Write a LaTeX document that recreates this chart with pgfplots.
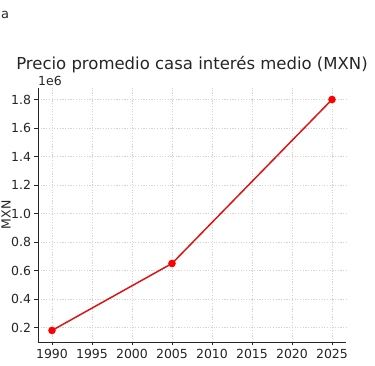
\documentclass[border=0pt]{standalone}
\usepackage{pgfplots}
\pgfplotsset{compat=1.18}
\usepackage{fontspec}
\setmainfont{DejaVu Sans}
\definecolor{linered}{RGB}{220,20,20}
\definecolor{gridc}{RGB}{212,212,212}
\begin{document}
\begin{tikzpicture}[x=1pt,y=1pt]
\useasboundingbox (0,0) rectangle (375,366);
\node[anchor=base west,font=\fontsize{13}{15}\selectfont,text=black!85,inner sep=0pt] at (1,347) {a};
\node[rotate=90,font=\fontsize{12.5}{15}\selectfont,text=black!85,inner sep=0pt] at (6,151) {MXN};
\begin{axis}[
  at={(38pt,24pt)}, anchor=origin,
  scale only axis, width=308pt, height=254pt,
  xmin=1988.25, xmax=2026.75,
  ymin=0.099, ymax=1.881,
  axis x line*=bottom, axis y line*=left,
  xtick={1990,1995,...,2025},
  ytick={0.2,0.4,...,1.8},
  xticklabel style={/pgf/number format/1000 sep={}},
  yticklabel style={/pgf/number format/.cd,fixed,fixed zerofill,precision=1},
  /pgf/number format/assume math mode=true,
  tick label style={font=\fontsize{12.5}{15}\selectfont,text=black!85},
  tick align=outside, tickwidth=3.5pt,
  major tick style={black!85, line width=0.8pt},
  axis line style={black!85, line width=0.8pt, -},
  grid=major,
  major grid style={gridc, dash pattern=on 1.2pt off 1.5pt, line width=0.45pt},
  clip=false,
]
\addplot[linered, line width=1.5pt, mark=*, mark size=3pt, mark options={fill=red, draw=red}] coordinates {
  (1990,0.18) (2005,0.65) (2025,1.80)
};
\node[anchor=base west,font=\fontsize{12.5}{15}\selectfont,text=black!85,inner sep=0pt] at (axis description cs:0,1.0) [yshift=2pt] {1e6};
\node[anchor=base,font=\fontsize{16.5}{19}\selectfont,text=black!85,inner sep=0pt] at (axis description cs:0.5,1.0) [yshift=18pt] {Precio promedio casa interés medio (MXN)};
\end{axis}
\end{tikzpicture}
\end{document}
